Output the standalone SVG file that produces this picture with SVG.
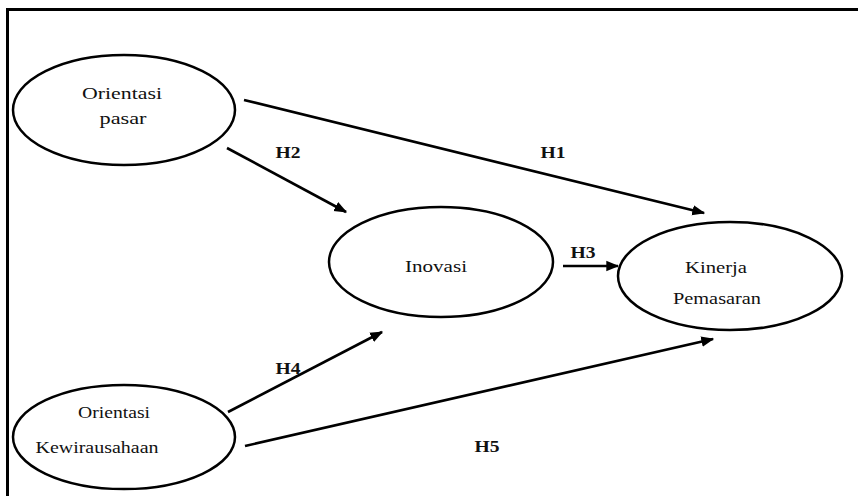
<svg xmlns="http://www.w3.org/2000/svg" width="858" height="496" viewBox="0 0 858 496">
  <style>
    .node { fill: #fff; stroke: #000; stroke-width: 2.5; }
    .lbl { font-family: "Liberation Serif", "DejaVu Serif", serif; font-size: 17px; fill: #111; text-anchor: middle; }
    .hyp { font-family: "Liberation Serif", "DejaVu Serif", serif; font-size: 17px; font-weight: bold; fill: #111; text-anchor: middle; }
    .edge { stroke: #000; stroke-width: 2.6; fill: none; marker-end: url(#arrow); }
  </style>
  <defs>
    <marker id="arrow" viewBox="0 0 10 10" refX="9" refY="5" markerWidth="5" markerHeight="5" orient="auto" markerUnits="strokeWidth">
      <path d="M0,1 L10,5 L0,9 z" fill="#000"/>
    </marker>
  </defs>
  <rect width="858" height="496" fill="#fff"/>
  <!-- frame (open on right and bottom) -->
  <path d="M7.5,496 V9.5 H858" fill="none" stroke="#000" stroke-width="3"/>

  <g id="connectors">
    <line class="edge" x1="244" y1="100" x2="704" y2="213"/>
    <line class="edge" x1="227" y1="148" x2="346" y2="212"/>
    <line class="edge" x1="563" y1="266" x2="618" y2="266"/>
    <line class="edge" x1="228" y1="412" x2="382" y2="332"/>
    <line class="edge" x1="245" y1="446" x2="713" y2="339"/>
    <text class="hyp" x="553" y="158" textLength="25" lengthAdjust="spacingAndGlyphs">H1</text>
    <text class="hyp" x="288" y="158" textLength="25" lengthAdjust="spacingAndGlyphs">H2</text>
    <text class="hyp" x="583" y="258" textLength="25" lengthAdjust="spacingAndGlyphs">H3</text>
    <text class="hyp" x="288" y="374" textLength="25" lengthAdjust="spacingAndGlyphs">H4</text>
    <text class="hyp" x="487" y="452" textLength="25" lengthAdjust="spacingAndGlyphs">H5</text>
  </g>

  <g id="orientasi-pasar">
    <ellipse class="node" cx="124" cy="110" rx="111" ry="55"/>
    <text class="lbl" x="122" y="99" textLength="80" lengthAdjust="spacingAndGlyphs">Orientasi</text>
    <text class="lbl" x="123" y="124" textLength="47" lengthAdjust="spacingAndGlyphs">pasar</text>
  </g>

  <g id="orientasi-kewirausahaan">
    <ellipse class="node" cx="124" cy="437" rx="111" ry="52"/>
    <text class="lbl" x="114" y="418" textLength="72" lengthAdjust="spacingAndGlyphs">Orientasi</text>
    <text class="lbl" x="97" y="453" textLength="123" lengthAdjust="spacingAndGlyphs">Kewirausahaan</text>
  </g>

  <g id="inovasi">
    <ellipse class="node" cx="441" cy="262" rx="112" ry="55"/>
    <text class="lbl" x="436" y="272" textLength="62" lengthAdjust="spacingAndGlyphs">Inovasi</text>
  </g>

  <g id="kinerja-pemasaran">
    <ellipse class="node" cx="730" cy="276" rx="112" ry="54"/>
    <text class="lbl" x="716" y="273" textLength="62" lengthAdjust="spacingAndGlyphs">Kinerja</text>
    <text class="lbl" x="717" y="304" textLength="88" lengthAdjust="spacingAndGlyphs">Pemasaran</text>
  </g>
</svg>
